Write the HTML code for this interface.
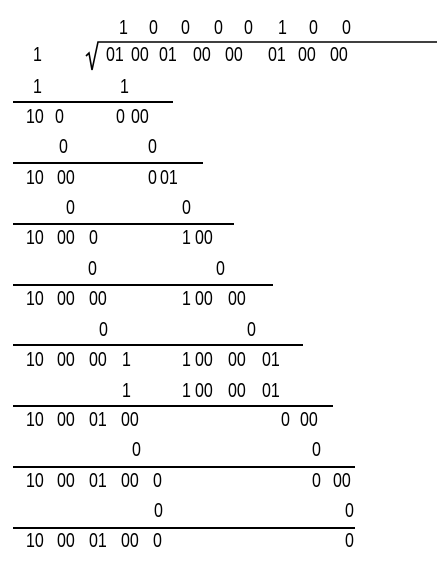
<!DOCTYPE html>
<html><head><meta charset="utf-8"><style>
html,body{margin:0;padding:0;background:#fff;}
#c{position:relative;width:437px;height:567px;overflow:hidden;font-family:"Liberation Sans",sans-serif;font-size:20px;color:#000;}
#c span{position:absolute;line-height:20px;white-space:pre;transform:scaleX(0.8);transform-origin:left center;}
.ln{position:absolute;height:2px;background:#000;left:13px;}
</style></head><body>
<div id="c">
<svg style="position:absolute;left:0;top:0" width="437" height="567">
<polyline points="86,56 89,53 92,70 98,42 437,42" fill="none" stroke="#000" stroke-width="1.6"/>
</svg>
<div id="lines"></div>
<div id="toks"></div>
</div>
<script>
const rowsY=[28,55,87,117,147,178,208,238,269,299,330,360,391,420,450,481,511,541];
const lineRight=[173,203,234,273,303,333,355,355];
const lineY=[102,163,224,285,345,406,467,528];
const toks=[
[0,[[119,"1"],[149,"0"],[181,"0"],[214,"0"],[244,"0"],[278,"1"],[309,"0"],[342,"0"]]],
[1,[[106,"01"],[131,"00"],[159,"01"],[193,"00"],[225,"00"],[268,"01"],[298,"00"],[330,"00"],[33,"1"]]],
[2,[[33,"1"],[120,"1"]]],
[3,[[26,"10"],[55,"0"],[116,"0"],[131,"00"]]],
[4,[[59,"0"],[148,"0"]]],
[5,[[26,"10"],[57,"00"],[148,"0"],[160,"01"]]],
[6,[[66,"0"],[182,"0"]]],
[7,[[26,"10"],[57,"00"],[89,"0"],[182,"1"],[195,"00"]]],
[8,[[88,"0"],[216,"0"]]],
[9,[[26,"10"],[57,"00"],[89,"00"],[182,"1"],[195,"00"],[228,"00"]]],
[10,[[99,"0"],[247,"0"]]],
[11,[[26,"10"],[57,"00"],[89,"00"],[122,"1"],[182,"1"],[195,"00"],[228,"00"],[262,"01"]]],
[12,[[122,"1"],[182,"1"],[195,"00"],[228,"00"],[262,"01"]]],
[13,[[26,"10"],[57,"00"],[89,"01"],[121,"00"],[281,"0"],[300,"00"]]],
[14,[[132,"0"],[312,"0"]]],
[15,[[26,"10"],[57,"00"],[89,"01"],[121,"00"],[153,"0"],[312,"0"],[333,"00"]]],
[16,[[154,"0"],[345,"0"]]],
[17,[[26,"10"],[57,"00"],[89,"01"],[121,"00"],[153,"0"],[345,"0"]]]
];
const L=document.getElementById('lines');
lineY.forEach((y,i)=>{const d=document.createElement('div');d.className='ln';


d.style.top=(y-1)+'px';d.style.width=(lineRight[i]-13)+'px';L.appendChild(d);});
const T=document.getElementById('toks');
toks.forEach(([r,list])=>list.forEach(([x,t])=>{const s=document.createElement('span');


s.textContent=t;s.style.left=x+'px';s.style.top=(rowsY[r]-10)+'px';T.appendChild(s);}));
</script>
</body></html>
